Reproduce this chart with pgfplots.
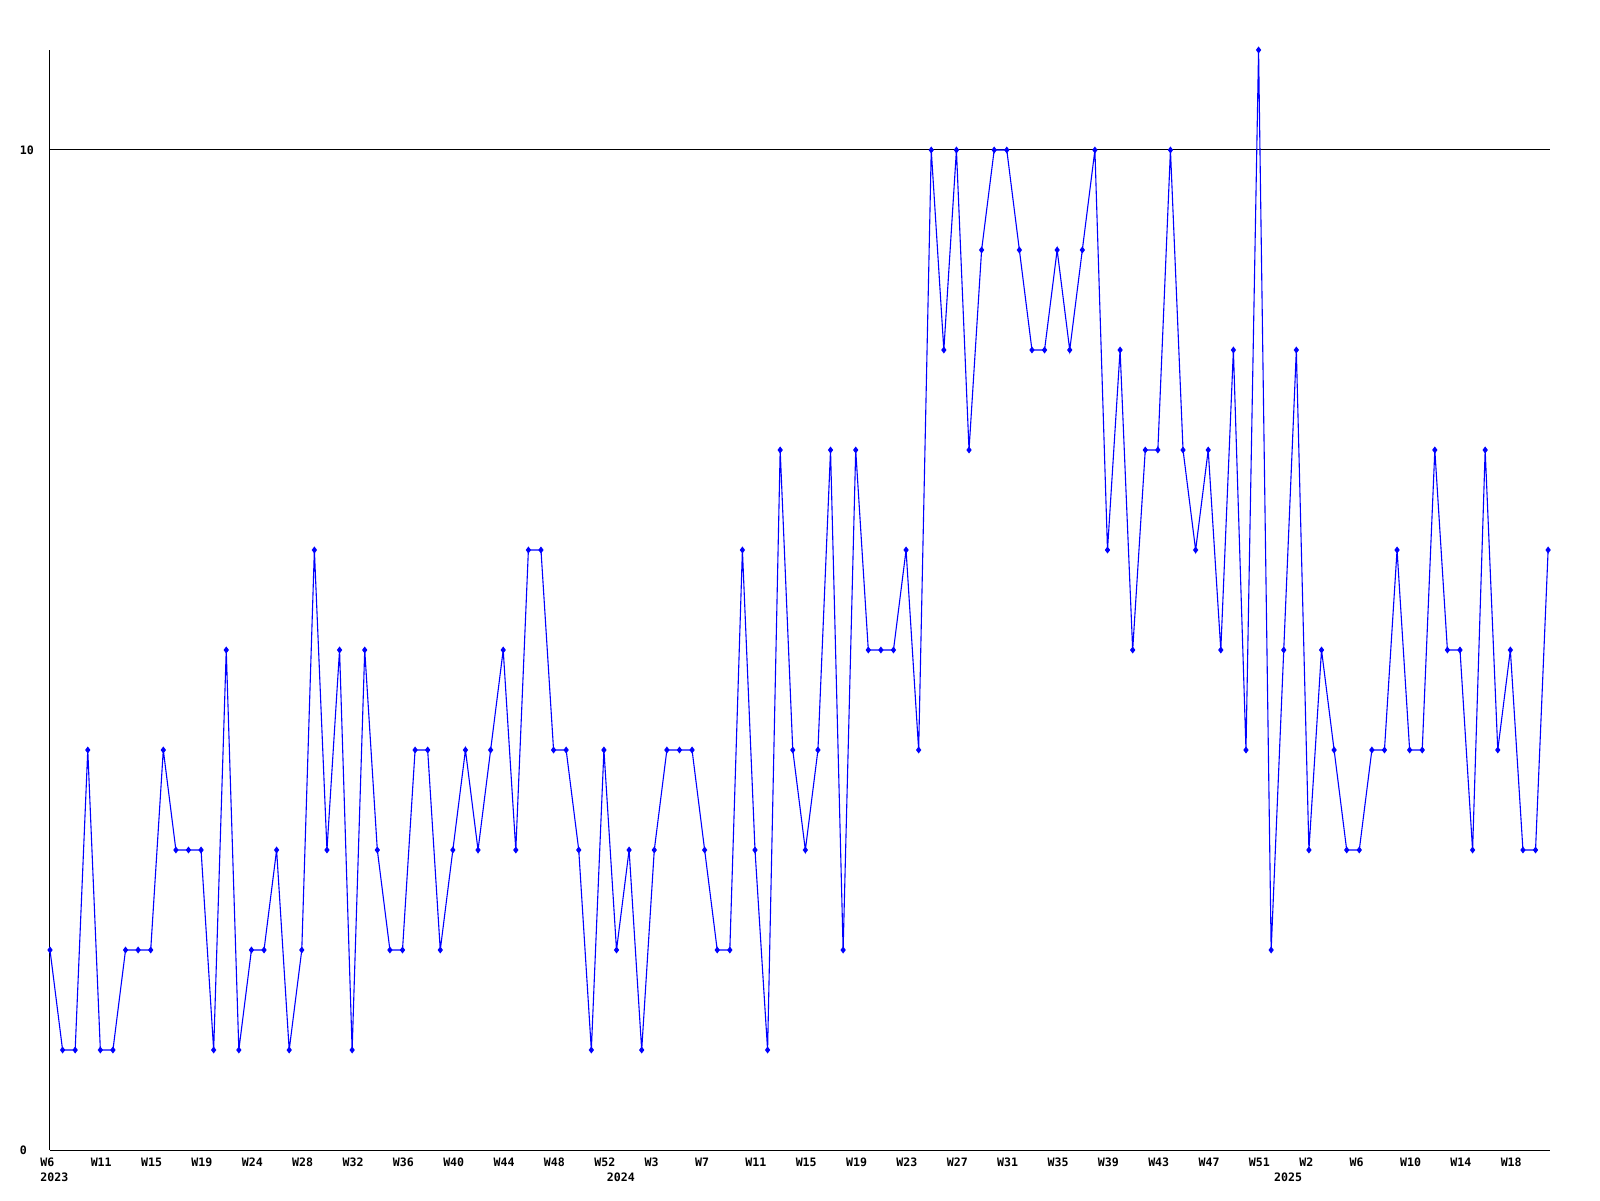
\documentclass[border=0pt]{standalone}
\usepackage{fontspec}
\setmonofont{DejaVu Sans Mono}
\usepackage{pgfplots}
\pgfplotsset{compat=1.18}
\newcommand\lab{\ttfamily\bfseries\fontsize{5.8}{7}\selectfont}
\pgfplotstableread{
x y
0 2
1 1
2 1
3 4
4 1
5 1
6 2
7 2
8 2
9 4
10 3
11 3
12 3
13 1
14 5
15 1
16 2
17 2
18 3
19 1
20 2
21 6
22 3
23 5
24 1
25 5
26 3
27 2
28 2
29 4
30 4
31 2
32 3
33 4
34 3
35 4
36 5
37 3
38 6
39 6
40 4
41 4
42 3
43 1
44 4
45 2
46 3
47 1
48 3
49 4
50 4
51 4
52 3
53 2
54 2
55 6
56 3
57 1
58 7
59 4
60 3
61 4
62 7
63 2
64 7
65 5
66 5
67 5
68 6
69 4
70 10
71 8
72 10
73 7
74 9
75 10
76 10
77 9
78 8
79 8
80 9
81 8
82 9
83 10
84 6
85 8
86 5
87 7
88 7
89 10
90 7
91 6
92 7
93 5
94 8
95 4
96 11
97 2
98 5
99 8
100 3
101 5
102 4
103 3
104 3
105 4
106 4
107 6
108 4
109 4
110 7
111 5
112 5
113 3
114 7
115 4
116 5
117 3
118 3
119 6
}\datatable
\begin{document}
\begin{tikzpicture}
\path[use as bounding box] (-25pt,-25pt) rectangle (775pt,575pt);
\begin{axis}[
  scale only axis, width=750pt, height=550pt,
  xmin=0, xmax=119.15, ymin=0, ymax=11,
  axis x line=bottom, axis y line=left,
  axis line style={-, black, line width=0.5pt},
  xtick={0,4,...,116},
  xticklabels={W6,W11,W15,W19,W24,W28,W32,W36,W40,W44,W48,W52,W3,W7,W11,W15,W19,W23,W27,W31,W35,W39,W43,W47,W51,W2,W6,W10,W14,W18},
  ytick={0,10},
  /pgf/number format/assume math mode=true,
  ymajorgrids, grid style={black, line width=0.5pt},
  major tick length=0pt,
  tick label style={font=\lab, inner sep=0pt},
  xticklabel style={anchor=base west, xshift=-5pt, yshift=-8pt},
  yticklabel style={anchor=west, xshift=-15.25pt},
  clip=false,
]
\addplot[color={rgb,255:red,0;green,0;blue,255}, line width=0.55pt, mark=diamond*, mark size=1.3pt] table[x=x,y=y] {\datatable};
\node[font=\lab, anchor=base west, inner sep=0pt] at ([xshift=-5pt,yshift=-15.5pt]axis cs:0,0) {2023};
\node[font=\lab, anchor=base west, inner sep=0pt] at ([xshift=-5pt,yshift=-15.5pt]axis cs:45,0) {2024};
\node[font=\lab, anchor=base west, inner sep=0pt] at ([xshift=-5pt,yshift=-15.5pt]axis cs:98,0) {2025};
\end{axis}
\end{tikzpicture}
\end{document}
